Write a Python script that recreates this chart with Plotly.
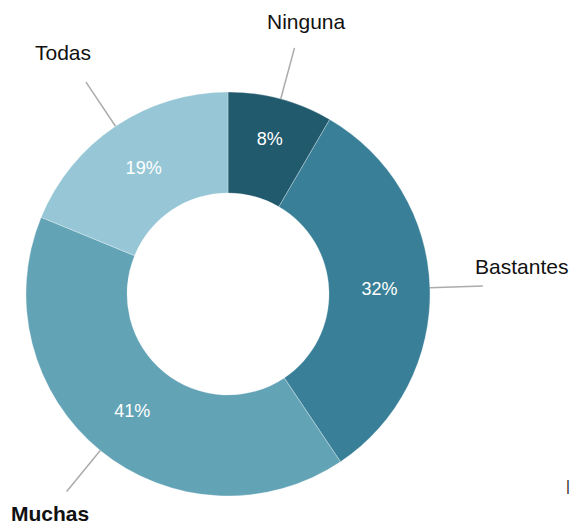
import math
import plotly.graph_objects as go

# ---- data ----
labels = ["Ninguna", "Bastantes", "Muchas", "Todas"]
values = [8.4, 32.2, 40.6, 18.8]
colors = ["#215a6d", "#397f97", "#63a3b6", "#97c7d6"]
bold_label = "Muchas"

# ---- layout constants ----
W, H = 572, 525
cx, cy, R = 228, 294, 202          # donut centre / outer radius in px
tail_r = 255                        # end of leader lines
label_dx = [12, -10, -17, -23]      # label offsets from leader-line end (px)
label_dy = [-26, -19, 22, -30]
label_anchor = ["center", "left", "center", "center"]
font_family = "Arial, 'Liberation Sans', sans-serif"

fig = go.Figure()
fig.add_trace(go.Pie(
    labels=labels,
    values=values,
    sort=False,
    direction="clockwise",
    rotation=0,
    hole=0.5,
    marker=dict(colors=colors, line=dict(color="white", width=0.3)),
    texttemplate="%{percent:.0%}",
    textposition="inside",
    insidetextorientation="horizontal",
    textfont=dict(family=font_family, size=18, color="white"),
    showlegend=False,
    domain=dict(x=[(cx - R) / W, (cx + R) / W],
                y=[(H - cy - R) / H, (H - cy + R) / H]),
))

total = sum(values)
cum = 0.0
shapes = []
annotations = []
for i, (lab, v) in enumerate(zip(labels, values)):
    th = 2 * math.pi * (cum + v / 2) / total
    cum += v
    tx, ty = cx + R * math.sin(th), cy - R * math.cos(th)
    ex, ey = cx + tail_r * math.sin(th), cy - tail_r * math.cos(th)
    shapes.append(dict(type="line", xref="paper", yref="paper",
                       x0=tx / W, y0=1 - ty / H, x1=ex / W, y1=1 - ey / H,
                       line=dict(color="#ababab", width=1.5)))
    txt = f"<b>{lab}</b>" if lab == bold_label else lab
    annotations.append(dict(
        x=(ex + label_dx[i]) / W, y=1 - (ey + label_dy[i]) / H,
        xref="paper", yref="paper", text=txt, showarrow=False,
        xanchor=label_anchor[i], yanchor="middle",
        font=dict(family=font_family, size=21, color="#111111")))

annotations.append(dict(x=1, y=1 - 485 / H, xref="paper", yref="paper",
                        text="|", showarrow=False, xanchor="right",
                        yanchor="middle",
                        font=dict(family=font_family, size=15, color="#222222")))

fig.update_layout(
    width=W, height=H,
    margin=dict(l=0, r=0, t=0, b=0),
    paper_bgcolor="white",
    plot_bgcolor="white",
    shapes=shapes,
    annotations=annotations,
)

fig.write_html("out.html",
               config={"displayModeBar": False},
               post_script="document.body.style.margin='0';"
                           "document.body.style.overflow='hidden';")
